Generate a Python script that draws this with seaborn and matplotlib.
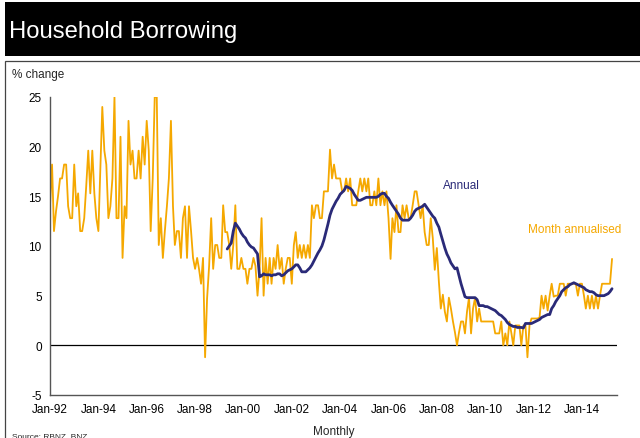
import matplotlib
matplotlib.use("Agg")
import matplotlib.pyplot as plt
from matplotlib.patches import Rectangle
import pandas as pd
import seaborn as sns

# monthly % change, annualised (from Jan-92)
month_annualised = [
    14.1, 18.2, 11.5, 13.5, 15.0, 16.8, 16.8, 18.2, 18.2, 14.0, 12.8, 12.8,  # 1992
    18.2, 14.0, 15.3, 11.5, 11.5, 12.8, 16.0, 19.6, 15.3, 19.6, 15.3, 12.8,  # 1993
    11.5, 18.0, 24.0, 19.6, 18.2, 12.8, 14.0, 16.8, 25.0, 12.8, 12.8, 21.0,  # 1994
    8.8, 14.0, 12.8, 22.6, 18.2, 19.6, 16.8, 16.8, 19.6, 16.8, 21.0, 18.2,   # 1995
    22.6, 19.6, 11.5, 16.8, 25.0, 25.0, 10.1, 12.8, 8.8, 11.5, 14.0, 16.8,   # 1996
    22.6, 14.0, 10.1, 11.5, 11.5, 8.8, 12.8, 14.0, 8.8, 14.0, 11.5, 8.8,     # 1997
    7.7, 8.8, 7.7, 6.2, 8.8, -1.2, 4.7, 8.0, 12.8, 7.7, 10.1, 10.1,          # 1998
    8.8, 8.8, 14.1, 11.4, 11.4, 10.1, 7.7, 10.1, 14.1, 7.7, 7.7, 8.8,        # 1999
    7.7, 7.7, 6.2, 7.7, 7.7, 8.8, 8.0, 5.0, 7.7, 12.8, 5.0, 8.8,             # 2000
    6.2, 8.8, 6.2, 8.8, 7.7, 10.1, 7.7, 8.8, 6.2, 7.7, 8.8, 8.8,             # 2001
    6.2, 10.1, 11.4, 8.8, 10.1, 8.8, 10.1, 8.8, 10.1, 8.8, 14.1, 12.8,       # 2002
    14.1, 14.1, 12.8, 12.8, 15.5, 15.5, 15.5, 19.7, 16.8, 18.2, 16.8, 16.8,  # 2003
    16.8, 15.5, 15.5, 16.8, 15.5, 16.8, 14.1, 14.1, 14.1, 15.5, 16.8, 15.5,  # 2004
    16.8, 15.5, 16.8, 14.1, 14.1, 15.5, 14.1, 16.8, 14.1, 15.5, 14.1, 15.5,  # 2005
    12.8, 8.7, 12.8, 11.4, 14.1, 11.4, 11.4, 14.1, 12.8, 14.1, 12.8, 12.8,   # 2006
    14.1, 15.5, 15.5, 14.1, 12.8, 14.1, 11.4, 10.1, 10.1, 12.8, 10.8, 7.6,   # 2007
    9.8, 6.4, 3.7, 5.1, 3.4, 2.4, 4.8, 3.7, 2.4, 1.3, 0.0, 1.3,              # 2008
    2.4, 2.4, 1.2, 3.4, 4.8, 1.2, 3.7, 4.8, 2.4, 3.7, 2.4, 2.4,              # 2009
    2.4, 2.4, 2.4, 2.4, 2.4, 1.2, 1.2, 1.2, 2.4, 0.0, 1.2, 0.0,              # 2010
    2.4, 1.2, 0.0, 2.0, 2.0, 2.0, 0.0, 2.0, 2.0, -1.2, 2.0, 2.7,             # 2011
    2.7, 2.7, 2.7, 2.8, 5.0, 3.7, 5.0, 3.5, 5.0, 6.2, 4.9, 5.0,              # 2012
    5.0, 6.2, 6.2, 6.2, 5.0, 6.2, 6.2, 6.2, 6.2, 6.2, 5.0, 6.2,              # 2013
    6.2, 5.0, 3.7, 5.0, 3.7, 5.0, 3.7, 5.0, 3.7, 5.0, 6.2, 6.2,              # 2014
    6.2, 6.2, 6.2, 8.7,                                                      # 2015
]

# annual % change (from May-99)
annual = [
    9.7, 10.0, 10.3, 11.5, 12.3, 12.0, 11.7, 11.3,                           # 1999
    11.0, 10.8, 10.4, 10.1, 9.9, 9.8, 9.5, 9.2, 6.9, 7.0, 7.2, 7.1,          # 2000
    7.1, 7.1, 7.0, 7.1, 7.1, 7.2, 7.2, 7.0, 7.1, 7.3, 7.5, 7.6,              # 2001
    7.7, 7.9, 8.1, 8.1, 7.8, 7.4, 7.4, 7.4, 7.6, 7.8, 8.1, 8.5,              # 2002
    8.9, 9.3, 9.6, 10.0, 10.6, 11.4, 12.2, 13.1, 13.7, 14.1, 14.5, 14.8,     # 2003
    15.2, 15.4, 15.6, 16.0, 15.9, 15.8, 15.6, 15.2, 14.9, 14.6, 14.6, 14.7,  # 2004
    14.8, 14.9, 14.9, 14.9, 14.9, 14.9, 14.9, 15.0, 15.2, 15.3, 15.3, 15.0,  # 2005
    14.8, 14.4, 14.1, 13.8, 13.5, 13.2, 12.8, 12.6, 12.6, 12.6, 12.6, 12.8,  # 2006
    13.1, 13.5, 13.7, 13.8, 13.9, 14.0, 14.2, 13.9, 13.6, 13.3, 13.0, 12.8,  # 2007
    12.3, 11.9, 11.2, 10.5, 9.8, 9.2, 8.8, 8.3, 8.0, 7.7, 7.8, 7.0,          # 2008
    6.2, 5.5, 4.9, 4.8, 4.8, 4.8, 4.8, 4.8, 4.6, 4.0, 4.0, 4.0,              # 2009
    3.9, 3.9, 3.8, 3.7, 3.6, 3.5, 3.3, 3.1, 3.0, 2.8, 2.6, 2.3,              # 2010
    2.1, 2.0, 1.9, 1.9, 1.8, 1.8, 1.8, 1.75, 2.2, 2.2, 2.2, 2.2,             # 2011
    2.3, 2.4, 2.5, 2.6, 2.8, 2.9, 3.0, 3.1, 3.1, 3.7, 4.0, 4.4,              # 2012
    4.7, 5.0, 5.4, 5.6, 5.8, 5.9, 6.1, 6.2, 6.3, 6.2, 6.1, 6.0,              # 2013
    5.9, 5.8, 5.6, 5.5, 5.4, 5.4, 5.3, 5.1, 5.0, 5.0, 5.0, 5.0,              # 2014
    5.1, 5.2, 5.4, 5.7,                                                      # 2015
]

month_start = "1992-01-01"
annual_start = "1999-05-01"
y_ticks = [-5, 0, 5, 10, 15, 20, 25]

orange = "#F5A800"
navy = "#2A2A78"

sns.set_style("white")
plt.rcParams['font.family'] = ['Liberation Sans', 'DejaVu Sans']
plt.rcParams['axes.unicode_minus'] = False

df_m = pd.DataFrame({
    "date": pd.date_range(month_start, periods=len(month_annualised), freq="MS"),
    "value": month_annualised,
})
df_a = pd.DataFrame({
    "date": pd.date_range(annual_start, periods=len(annual), freq="MS"),
    "value": annual,
})

fig = plt.figure(figsize=(6.4, 4.39), dpi=100)

# title bar and outer frame
fig.patches.append(Rectangle((5 / 640, 1 - 57 / 439), 635 / 640, 54 / 439,
                             transform=fig.transFigure, facecolor="black",
                             edgecolor="none"))
fig.text(9 / 640, 1 - 32 / 439, "Household Borrowing", color="white",
         fontsize=17.2, va="center", ha="left")
fig.patches.append(Rectangle((4.5 / 640, -0.1), 640 / 640, 1.1 - 62 / 439,
                             transform=fig.transFigure, fill=False,
                             edgecolor="#444444", linewidth=0.9))

ax = fig.add_axes([50 / 640, 1 - 396 / 439, 567 / 640, 298 / 439])
ax.set_facecolor("none")

sns.lineplot(data=df_m, x="date", y="value", color=orange, linewidth=1.3, ax=ax)
sns.lineplot(data=df_a, x="date", y="value", color=navy, linewidth=2.0, ax=ax)
ax.axhline(0, color="black", linewidth=0.9, zorder=0)

ax.set_ylim(-5, 25)
ax.set_yticks(y_ticks)
ax.set_xlim(pd.Timestamp("1992-01-01"), pd.Timestamp("2015-06-15"))
xticks = pd.date_range("1992-01-01", "2014-01-01", freq="24MS")
ax.set_xticks(xticks)
ax.set_xticklabels([d.strftime("%b-%y") for d in xticks])

for s in ["top", "right"]:
    ax.spines[s].set_visible(False)
for s in ["left", "bottom"]:
    ax.spines[s].set_color("#555555")
    ax.spines[s].set_linewidth(1.0)
ax.tick_params(direction="out", length=3, width=0.8, color="#555555",
               labelsize=8.5, labelcolor="black", pad=3)

ax.set_xlabel("Monthly", fontsize=8.5, labelpad=7)
ax.set_ylabel("")

fig.text(12 / 640, 1 - 75 / 439, "% change", fontsize=8.5, va="center")
fig.text(443 / 640, 1 - 186 / 439, "Annual", fontsize=8.5, color=navy, va="center")
fig.text(528 / 640, 1 - 230 / 439, "Month annualised", fontsize=8.5,
         color=orange, va="center")
fig.text(12 / 640, 1 - 433 / 439, "Source: RBNZ, BNZ", fontsize=6, va="top")

fig.savefig("out.png", dpi=100)
